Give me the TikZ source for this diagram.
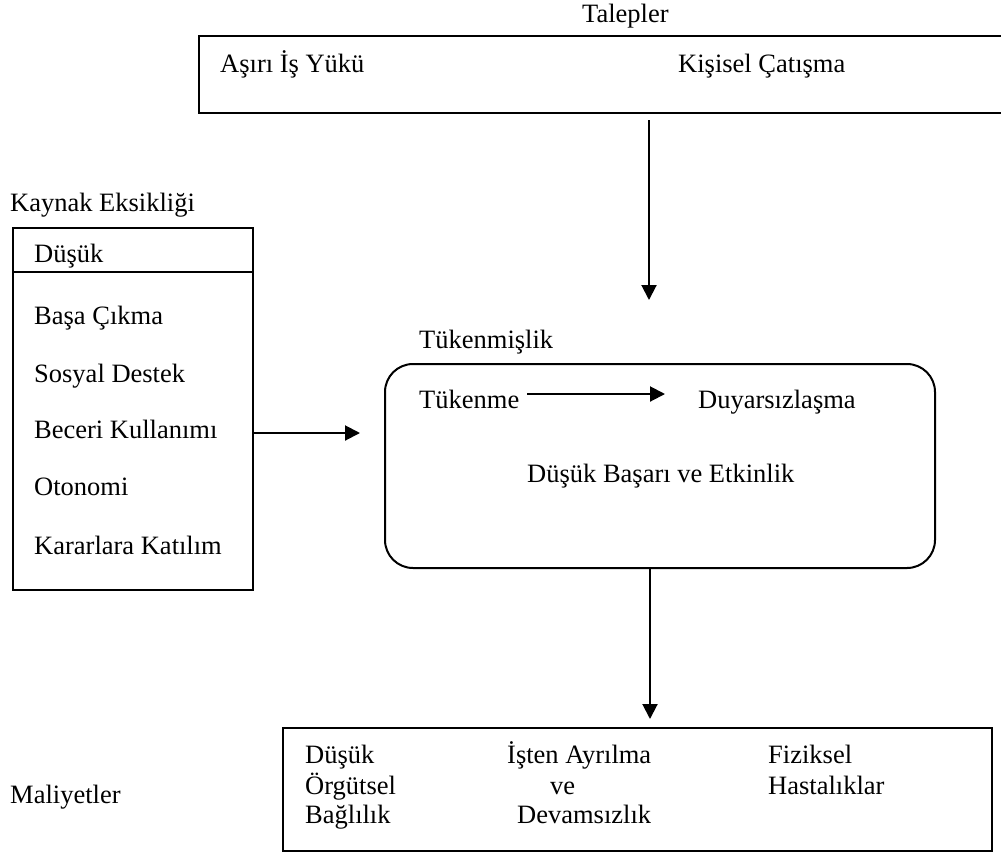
\documentclass[tikz,border=0pt]{standalone}
\usepackage{fontspec}
\setmainfont{Liberation Serif}
\usetikzlibrary{arrows.meta}
\begin{document}
\begin{tikzpicture}[x=1pt,y=-1pt,
  lbl/.style={font=\fontsize{26.5}{30}\selectfont, inner sep=0pt, anchor=base west},
  frame/.style={draw, line width=2pt, inner sep=0pt},
  arr/.style={line width=2pt, -{Triangle[length=15pt,width=15pt]}}]
\clip (0,0) rectangle (1001,855);

% Demands
\node[lbl] (taleplerT) at (582,22) {Talepler};
\node[frame, minimum width=811pt, minimum height=77pt] (talep) at (604.5,74.5) {};
\node[lbl] (asiri) at (220,72) {Aşırı İş Yükü};
\node[lbl] (kisisel) at (678,72) {Kişisel Çatışma};

% Lack of resources
\node[lbl] (kaynakT) at (10,211) {Kaynak Eksikliği};
\node[frame, minimum width=240pt, minimum height=362pt] (kaynak) at (133,409) {};
\draw[line width=2pt] ([yshift=-45pt]kaynak.north west) -- ([yshift=-45pt]kaynak.north east);
\node[lbl] (dusuk) at (34,262) {Düşük};
\node[lbl] (basa) at (34,324) {Başa Çıkma};
\node[lbl] (sosyal) at (34,382) {Sosyal Destek};
\node[lbl] (beceri) at (34,438) {Beceri Kullanımı};
\node[lbl] (otonomi) at (34,495) {Otonomi};
\node[lbl] (karar) at (34,554) {Kararlara Katılım};

% Burnout
\node[lbl] (tukT) at (419,348) {Tükenmişlik};
\node[frame, rounded corners=28pt, minimum width=550pt, minimum height=204pt] (tuk) at (660,466) {};
\node[lbl] (tukenme) at (419,408) {Tükenme};
\node[lbl] (duyar) at (698,408) {Duyarsızlaşma};
\node[lbl] (basari) at (527,482) {Düşük Başarı ve Etkinlik};

% Costs
\node[lbl] (maliyetT) at (10,803) {Maliyetler};
\node[frame, minimum width=709pt, minimum height=123pt] (maliyet) at (637.5,789.5) {};
\node[lbl] (m1a) at (305,763) {Düşük};
\node[lbl] (m1b) at (305,794) {Örgütsel};
\node[lbl] (m1c) at (305,823) {Bağlılık};
\node[lbl] (m2a) at (507,763) {İşten Ayrılma};
\node[lbl] (m2b) at (550,794) {ve};
\node[lbl] (m2c) at (517,823) {Devamsızlık};
\node[lbl] (m3a) at (768,763) {Fiziksel};
\node[lbl] (m3b) at (768,794) {Hastalıklar};

% Connectors
\coordinate (talepOut) at (649,120);
\coordinate (talepIn) at (649,300);
\draw[arr] (talepOut) -- (talepIn);

\coordinate (kaynakIn) at (360,433);
\draw[arr] (kaynak.east |- kaynakIn) -- (kaynakIn);

\draw[arr] ([shift={(8,-14)}]tukenme.base east) -- ([shift={(-33,-14)}]duyar.base west);

\coordinate (maliyetIn) at (650,719);
\draw[arr] (tuk.south -| maliyetIn) -- (maliyetIn);
\end{tikzpicture}
\end{document}
